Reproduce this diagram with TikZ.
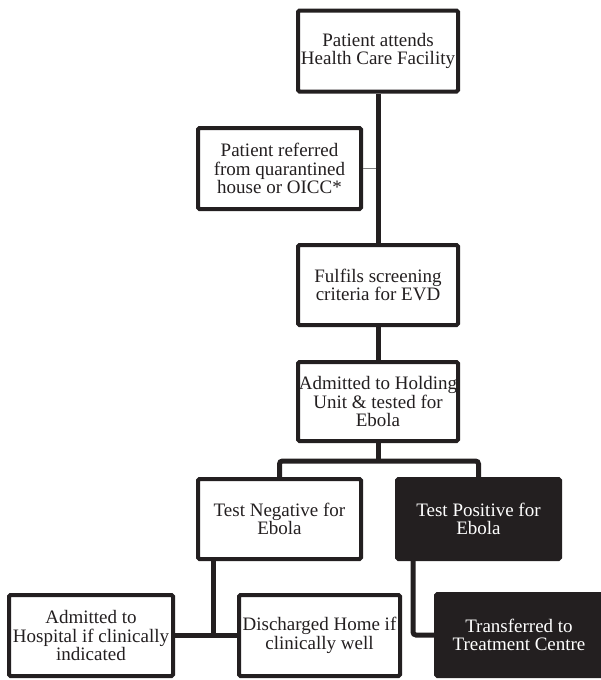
\documentclass[tikz,border=0pt]{standalone}
\usepackage{fontspec}
\setmainfont{Liberation Serif}
\definecolor{ink}{HTML}{231F20}
\begin{document}
\begin{tikzpicture}[x=1pt,y=-1pt,
  box/.style={draw=ink, line width=4pt, rounded corners=1.5pt, fill=white, text=ink,
    align=center, inner sep=0pt, minimum height=81pt,
    font=\fontsize{19}{18.5}\selectfont},
  darkbox/.style={box, fill=ink, text=white},
  conn/.style={draw=ink, line width=5pt},
  thinconn/.style={draw=gray, line width=1.5pt}]
\useasboundingbox (0,0) rectangle (601,680);
% nodes
\node[box, minimum width=160pt] (b1) at (378,51) {Patient attends\\Health Care Facility};
\node[box, minimum width=163pt] (b2) at (279.5,168.5) {Patient referred\\from quarantined\\house or OICC*};
\node[box, minimum width=160pt, minimum height=80pt] (b3) at (378,285) {Fulfils screening\\criteria for EVD};
\node[box, minimum width=160pt, minimum height=79pt] (b4) at (378,401.5) {Admitted to Holding\\Unit \& tested for\\Ebola};
\node[box, minimum width=163pt, minimum height=80pt] (b5) at (279.5,519) {Test Negative for\\Ebola};
\node[darkbox, minimum width=163pt, minimum height=80pt] (b6) at (478.5,519) {Test Positive for\\Ebola};
\node[box, minimum width=164pt] (b7) at (91,635.5) {Admitted to\\Hospital if clinically\\indicated};
\node[box, minimum width=161pt] (b8) at (319.5,635.5) {Discharged Home if\\clinically well};
\node[darkbox, minimum width=166pt, minimum height=82pt] (b9) at (519,635) {Transferred to\\Treatment Centre};
% junction points
\coordinate (bar) at (378,461);
\coordinate (j1) at (213,635.5);
\coordinate (j2) at (413,635);
% connectors
\draw[thinconn] (b2.east) -- (b2.east -| b1.south);
\draw[conn] (b1.south) -- (b3.north);
\draw[conn] (b3.south) -- (b4.north);
\draw[conn] (b4.south) -- (bar);
\draw[conn, rounded corners=3pt] (b5.north) |- (bar) -| (b6.north);
\draw[conn] (b5.south -| j1) -- (j1);
\draw[conn] (b7.east) -- (b8.west);
\draw[conn, rounded corners=3pt] (b6.south -| j2) |- (b9.west);
\end{tikzpicture}
\end{document}
